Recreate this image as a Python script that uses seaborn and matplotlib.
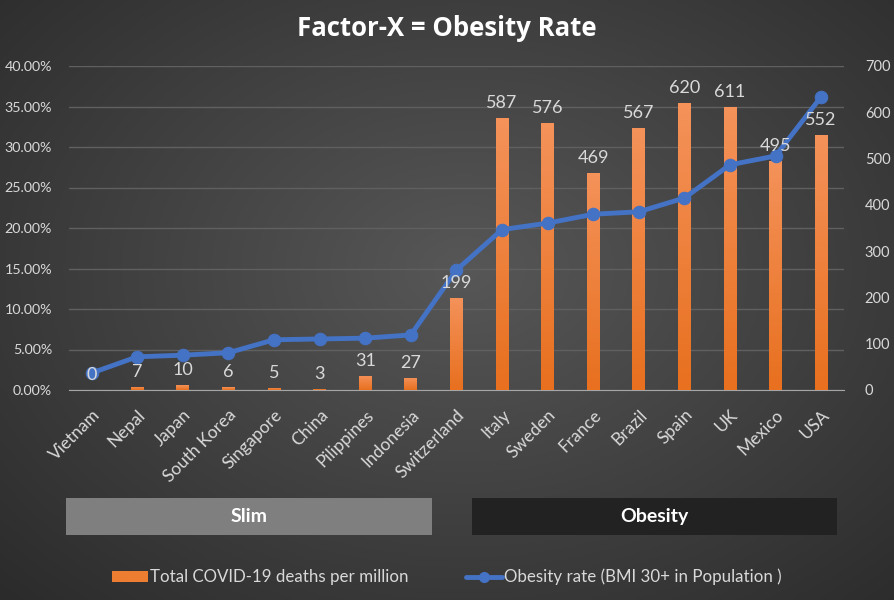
import numpy as np
import pandas as pd
import seaborn as sns
import matplotlib.pyplot as plt
from matplotlib.patches import Rectangle, Patch
from matplotlib.lines import Line2D
from matplotlib.colors import LinearSegmentedColormap
from matplotlib.ticker import PercentFormatter, MultipleLocator
from matplotlib.transforms import ScaledTranslation

# data
countries = ['Vietnam', 'Nepal', 'Japan', 'South Korea', 'Singapore', 'China',
             'Pilippines', 'Indonesia', 'Switzerland', 'Italy', 'Sweden', 'France',
             'Brazil', 'Spain', 'UK', 'Mexico', 'USA']
deaths = [0, 7, 10, 6, 5, 3, 31, 27, 199, 587, 576, 469, 567, 620, 611, 495, 552]
obesity = [2.1, 4.1, 4.3, 4.6, 6.2, 6.3, 6.4, 6.8, 14.8, 19.8, 20.6, 21.7,
           22.0, 23.7, 27.8, 28.9, 36.2]

df = pd.DataFrame({'country': countries, 'deaths': deaths, 'obesity': obesity})
df['pos'] = range(len(df))

sns.set_style('dark')
plt.rcParams['font.family'] = ['Lato', 'DejaVu Sans']

txt = '#d9d9d9'
orange = '#ED7D31'
blue = '#4472C4'

fig = plt.figure(figsize=(8.94, 6), dpi=100)

# dark radial background
bg = fig.add_axes([0, 0, 1, 1], zorder=-10)
yy, xx = np.mgrid[0:1:300j, 0:1:450j]
r = np.sqrt(((xx - 0.52) / 0.75) ** 2 + ((yy - 0.45) / 0.8) ** 2)
bg_cmap = LinearSegmentedColormap.from_list('bg', ['#575757', '#2a2a2a'])
bg.imshow(np.clip(r, 0, 1), cmap=bg_cmap, aspect='auto', extent=(0, 1, 0, 1), vmin=0, vmax=1)
bg.axis('off')

ax = fig.add_axes([0.077, 0.35, 0.867, 0.54], zorder=1)
ax.patch.set_visible(False)
ax2 = ax.twinx()
ax2.set_zorder(2)
ax3 = ax.twinx()
ax3.set_zorder(3)

# bars: deaths per million (right axis)
sns.barplot(data=df, x='country', y='deaths', ax=ax2, color=orange, width=0.28,
            saturation=1, edgecolor='none')
grad = LinearSegmentedColormap.from_list('og', ['#E8701F', '#F4925A'])
shade = np.linspace(1, 0, 50).reshape(-1, 1)
for p in ax2.patches:
    x0, w, h = p.get_x(), p.get_width(), p.get_height()
    if h <= 0:
        continue
    im = ax2.imshow(shade, cmap=grad, aspect='auto', extent=(x0, x0 + w, 0, h),
                    zorder=2, vmin=0, vmax=1)
    im.set_clip_path(p)
    p.set_facecolor('none')

# line: obesity rate (left axis)
sns.lineplot(data=df, x='pos', y='obesity', ax=ax3, color=blue, lw=3.5,
             marker='o', markersize=9, markeredgecolor=blue, sort=False)

# bar value labels drawn on top of everything
for p, d in zip(ax2.patches, deaths):
    ax3.annotate(str(d), xy=(p.get_x() + p.get_width() / 2, p.get_height()),
                 xycoords=ax2.transData, xytext=(0, 5), textcoords='offset points',
                 ha='center', va='bottom', color=txt, fontsize=13)

ax.set_ylim(0, 40)
ax3.set_ylim(0, 40)
ax2.set_ylim(0, 700)
ax.set_xlim(-0.5, 16.5)

ax.yaxis.set_major_locator(MultipleLocator(5))
ax.yaxis.set_major_formatter(PercentFormatter(decimals=2))
ax2.yaxis.set_major_locator(MultipleLocator(100))
ax3.set_yticks([])

ax.set_xticks(df['pos'])
ax.set_xticklabels(countries, rotation=45, ha='right', rotation_mode='anchor')
shift = ScaledTranslation(0.09, -0.08, fig.dpi_scale_trans)
for lab in ax.get_xticklabels():
    lab.set_transform(lab.get_transform() + shift)
ax.tick_params(axis='x', colors=txt, labelsize=12.5, length=0, pad=12)
ax.tick_params(axis='y', colors=txt, labelsize=10.3, length=0, pad=12)
ax2.tick_params(axis='y', colors=txt, labelsize=10.5, length=0, pad=15)

ax.grid(False)
ax.yaxis.grid(True, color='#606060', lw=1)
ax2.grid(False)
ax3.grid(False)
for a in (ax, ax2, ax3):
    a.set_xlabel('')
    a.set_ylabel('')
    for s in a.spines.values():
        s.set_visible(False)
ax.spines['bottom'].set_visible(True)
ax.spines['bottom'].set_color('#a6a6a6')

fig.text(0.5, 0.953, 'Factor-X = Obesity Rate', ha='center', va='center',
         color='white', fontsize=18.5, fontweight='bold', family='Open Sans')

# group boxes
fig.add_artist(Rectangle((0.074, 0.108), 0.409, 0.062, transform=fig.transFigure,
                         facecolor='#7f7f7f', edgecolor='none'))
fig.add_artist(Rectangle((0.528, 0.108), 0.408, 0.062, transform=fig.transFigure,
                         facecolor='#222222', edgecolor='none'))
fig.text(0.2785, 0.139, 'Slim', ha='center', va='center', color='white',
         fontsize=14, fontweight='bold')
fig.text(0.732, 0.139, 'Obesity', ha='center', va='center', color='white',
         fontsize=14, fontweight='bold')

handles = [Patch(facecolor=orange, edgecolor='none'),
           Line2D([], [], color=blue, lw=3.5, marker='o', markersize=7)]
labels = ['Total COVID-19 deaths per million', 'Obesity rate (BMI 30+ in Population )']
fig.legend(handles, labels, loc='center', bbox_to_anchor=(0.5, 0.038), ncol=2,
           frameon=False, labelcolor=txt, fontsize=12.2, handlelength=2.1,
           handletextpad=0.15, columnspacing=3.4)

fig.savefig('out.png', dpi=100)
